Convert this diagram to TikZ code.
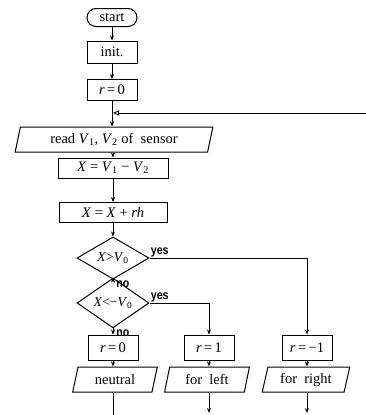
\documentclass[tikz,border=0pt]{standalone}
\usepackage{fontspec}
\usepackage{graphicx}
\setmainfont{Liberation Serif}
\newfontfamily\lblfont{Liberation Sans}
\usetikzlibrary{shapes.geometric,shapes.misc,arrows.meta}
\newcommand\vv[1]{\textit{V}\textsubscript{#1}}
\newcommand\yn[1]{\scalebox{0.85}[1]{\lblfont\bfseries #1}}
\begin{document}
\begin{tikzpicture}[x=1pt,y=-1pt,
  every node/.style={font=\fontsize{14.5}{16}\selectfont},
  line width=0.8pt,
  boxw/.style={draw,line width=1pt,rectangle,inner sep=0pt,minimum width=#1},
  boxh/.style={minimum height=#1},
  io/.style={draw,line width=1pt,trapezium,trapezium left angle=74,trapezium right angle=106,
    trapezium stretches=true,inner sep=0pt,minimum width=#1,minimum height=25pt},
  dec/.style={draw,line width=1pt,diamond,inner sep=0pt,minimum width=72pt,minimum height=#1,
    font=\fontsize{13.5}{14}\selectfont},
  arr/.style={-{Stealth[length=5pt,width=4pt]}},
  fbarr/.style={-{Triangle[open,length=6pt,width=5pt]}},
  lbl/.style={inner sep=1pt,font=\fontsize{12.5}{13}\selectfont}
]
\useasboundingbox (0,0) rectangle (366,415);
\node[draw,line width=1pt,rounded rectangle,inner sep=0pt,minimum width=50pt,minimum height=18pt] (start) at (112,17.5) {start};
\node[boxw=50pt,boxh=22pt] (init) at (112,52) {init.};
\node[boxw=50pt,boxh=21pt] (r0top) at (112,90) {\textit{r}\,=\,0};
\node[io=198pt] (read) at (114,139.5) {read \vv{1}, \vv{2} of\ \ sensor};
\node[boxw=110pt,boxh=20pt] (x1) at (113,168) {\textit{X} = \vv{1} − \vv{2}};
\node[boxw=108pt,boxh=20pt] (x2) at (113,212.5) {\textit{X} = \textit{X} + \textit{rh}};
\node[dec=40pt] (d1) at (113,258) {\textit{X}>\vv{0}};
\node[dec=34pt] (d2) at (113,303) {\textit{X}<−\vv{0}};
\node[boxw=50pt,boxh=25pt] (r0) at (113,347.5) {\textit{r}\,=\,0};
\node[boxw=50pt,boxh=25pt] (r1) at (209,347.5) {\textit{r}\,=\,1};
\node[boxw=50pt,boxh=25pt] (rm1) at (307,347.5) {\textit{r}\,=\,−1};
\node[io=85pt] (neu) at (115,379.5) {neutral};
\node[io=85pt] (lft) at (207,379.5) {for\ \ left};
\node[io=88pt] (rgt) at (306,379.5) {for\ \ right};
\coordinate (fb) at (113,113);
\coordinate (fbR) at (366,113);
\coordinate (e1) at (113,415);
\coordinate (e2) at (209,413);
\coordinate (e3) at (307,413);
\draw[arr] (start) -- (init);
\draw[arr] (init) -- (r0top);
\draw[arr] (r0top) -- (r0top |- read.north);
\draw[fbarr] (fbR) -- (fb);
\draw[arr] (x1 |- read.south) -- (x1);
\draw[arr] (x1) -- (x2);
\draw[arr] (x2) -- (d1);
\draw[arr] (d1) -- (d2);
\draw[arr] (d2) -- (r0);
\node[lbl,anchor=north west,xshift=2pt] at (d1.south) {\yn{no}};
\node[lbl,anchor=north west,xshift=2pt] at (d2.south) {\yn{no}};
\draw[arr] (d1.east) node[lbl,above right]{\yn{yes}} -| (rm1);
\draw[arr] (d2.east) node[lbl,above right]{\yn{yes}} -| (r1);
\draw[arr] (r0) -- (r0 |- neu.north);
\draw[arr] (r1) -- (r1 |- lft.north);
\draw[arr] (rm1) -- (rm1 |- rgt.north);
\draw (e1 |- neu.south) -- (e1);
\draw[arr] (e2 |- lft.south) -- (e2);
\draw[arr] (e3 |- rgt.south) -- (e3);
\end{tikzpicture}
\end{document}
